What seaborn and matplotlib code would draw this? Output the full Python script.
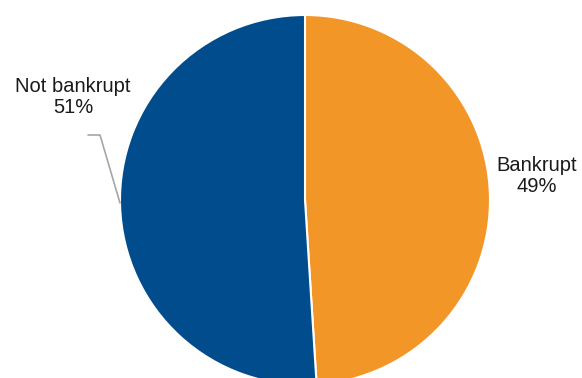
import matplotlib
matplotlib.use("Agg")
import matplotlib.pyplot as plt
import seaborn as sns

categories = ["Bankrupt", "Not bankrupt"]
shares = [49, 51]
colors = ["#F39628", "#004C8C"]

sns.set_style("white")
plt.rcParams["font.family"] = ["Liberation Sans", "DejaVu Sans"]

W, H = 582, 378
fig = plt.figure(figsize=(W / 100, H / 100), dpi=100)
ax = fig.add_axes([0, 0, 1, 1])

cx, cy, r = 305, H - 200, 185
ax.pie(shares, colors=colors, startangle=90, counterclock=False,
       center=(cx, cy), radius=r, frame=True,
       wedgeprops=dict(edgecolor="white", linewidth=1.5))
ax.set_xlim(0, W)
ax.set_ylim(0, H)
ax.set_aspect("equal")
ax.axis("off")

labels = [f"{c}\n{v}%" for c, v in zip(categories, shares)]
ax.text(537, H - 176, labels[0], ha="center", va="center",
        fontsize=14.5, color="#1a1a1a", linespacing=1.15)
ax.text(73, H - 97, labels[1], ha="center", va="center",
        fontsize=14.5, color="#1a1a1a", linespacing=1.15)

# leader line for the left label
ax.plot([88, 100, 120], [H - 135, H - 135, H - 203], color="#a6a6a6", lw=1.2)

fig.savefig("out.png", dpi=100)
